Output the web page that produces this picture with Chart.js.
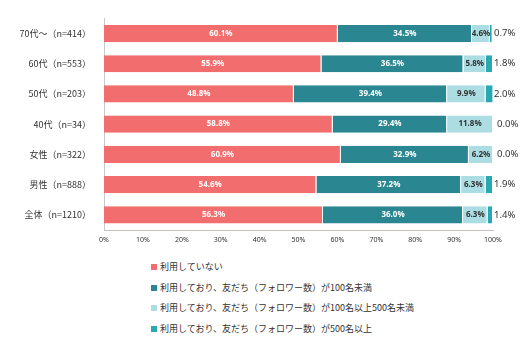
<!DOCTYPE html>
<html>
<head>
<meta charset="utf-8">
<script src="https://cdn.jsdelivr.net/npm/chart.js@4.4.0/dist/chart.umd.min.js"></script>
<style>
  html, body { margin:0; padding:0; background:#fff; }
  #wrap { position:relative; width:529px; height:358px; }
  #box { position:absolute; left:0; top:0; width:529px; height:250px; }
  #legend { position:absolute; left:151px; top:257px; font-family:'Noto Sans CJK JP', sans-serif; font-size:9px; color:#333; }
  #legend div { height:20.5px; line-height:14px; display:flex; align-items:center; }
  #legend span.sw { display:inline-block; width:6px; height:6px; margin-right:3px; }
</style>
</head>
<body>
<div id="wrap">
  <div id="box"><canvas id="c"></canvas></div>
  <div id="legend"></div>
</div>
<script>
// row labels, top to bottom
const groups = ['70代～（n=414）','60代（n=553）','50代（n=203）','40代（n=34）','女性（n=322）','男性（n=888）','全体（n=1210）'];
const seriesNames = ['利用していない','利用しており、友だち（フォロワー数）が100名未満','利用しており、友だち（フォロワー数）が100名以上500名未満','利用しており、友だち（フォロワー数）が500名以上'];
const notUsing   = [60.1, 55.9, 48.8, 58.8, 60.9, 54.6, 56.3];
const under100   = [34.5, 36.5, 39.4, 29.4, 32.9, 37.2, 36.0];
const from100    = [4.6, 5.8, 9.9, 11.8, 6.2, 6.3, 6.3];
const over500    = [0.7, 1.8, 2.0, 0.0, 0.0, 1.9, 1.4];
const xTicks = [0,10,20,30,40,50,60,70,80,90,100];

const COLORS = ['#f26d6d', '#2a8792', '#acdde3', '#27a8b2'];
const LABEL_COLORS = ['#ffffff', '#ffffff', '#333333', '#333333'];

const allSeries = [notUsing, under100, from100, over500];

const segLabels = {
  id:'segLabels',
  afterDatasetsDraw(chart) {
    const ctx = chart.ctx;
    ctx.save();
    ctx.textBaseline = 'middle';
    chart.data.datasets.forEach((ds, di) => {
      const meta = chart.getDatasetMeta(di);
      meta.data.forEach((bar, i) => {
        const v = ds.data[i];
        const txt = v.toFixed(1) + '%';
        if (di === 3) {
          ctx.font = '9.5px "Noto Sans", sans-serif';
          ctx.fillStyle = '#333';
          ctx.textAlign = 'left';
          const x = chart.scales.x.getPixelForValue(100) + (v === 0 ? 4 : 1);
          ctx.fillText(txt, x, bar.y);
        } else {
          ctx.font = 'bold 8px "Noto Sans", sans-serif';
          ctx.fillStyle = LABEL_COLORS[di];
          ctx.textAlign = 'center';
          ctx.fillText(txt, (bar.x + bar.base) / 2, bar.y);
        }
      });
    });
    ctx.restore();
  }
};

new Chart(document.getElementById('c'), {
  type:'bar',
  data:{
    labels:groups,
    datasets: allSeries.map((d, k) => ({
      label: seriesNames[k],
      data: d,
      backgroundColor: COLORS[k],
      borderColor:'#ffffff',
      borderWidth:{ right:1 },
      borderSkipped:false,
      categoryPercentage:1,
      barPercentage:0.57
    }))
  },
  options:{
    indexAxis:'y',
    responsive:true,
    maintainAspectRatio:false,
    animation:false,
    layout:{ padding:{ top:5, right:36, left:0, bottom:0 } },
    plugins:{ legend:{ display:false }, tooltip:{ enabled:false } },
    scales:{
      x:{
        stacked:true, min:0, max:100,
        afterBuildTicks: s => { s.ticks = xTicks.map(v => ({ value:v })); },
        afterFit: s => { s.height = 20; },
        grid:{ display:false, drawTicks:false },
        border:{ color:'#c8c0bc', width:1 },
        ticks:{ color:'#333', padding:6, font:{ size:7, family:'"Noto Sans", sans-serif' }, callback: v => v + '%' }
      },
      y:{
        stacked:true,
        afterFit: s => { s.width = 104; },
        grid:{ display:false, drawTicks:false },
        border:{ color:'#c8c8c8', width:1 },
        ticks:{ color:'#333', padding:13, font:{ size:9, family:'"Noto Sans CJK JP", sans-serif' } }
      }
    }
  },
  plugins:[segLabels]
});

const lg = document.getElementById('legend');
seriesNames.forEach((n, k) => {
  const row = document.createElement('div');
  row.innerHTML = '<span class="sw" style="background:' + COLORS[k] + '"></span>' + n;
  lg.appendChild(row);
});
</script>
</body>
</html>
